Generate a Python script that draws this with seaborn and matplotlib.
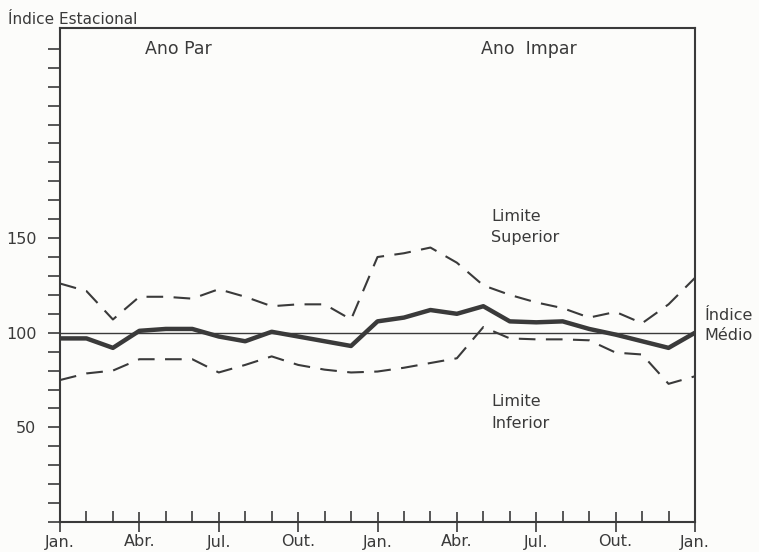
import seaborn as sns
import matplotlib.pyplot as plt
import numpy as np
import pandas as pd

# Monthly values (Jan of even year -> Jan two years later)
months = list(range(25))
indice_medio = [97, 97, 92, 101, 102, 102, 98, 95.5, 100.5, 98, 95.5, 93,
                106, 108, 112, 110, 114, 106, 105.5, 106, 102, 99, 95.5, 92, 100]
limite_superior = [126, 122, 107, 119, 119, 118, 123, 119, 114, 115, 115, 107,
                   140, 142, 145, 137, 125, 120, 116, 113, 108, 111, 105, 115, 129]
limite_inferior = [75, 78.5, 80, 86, 86, 86, 79, 83, 87.5, 83, 80.5, 79,
                   79.5, 81.5, 84, 86.5, 103, 97, 96.5, 96.5, 96, 89.5, 88.5, 73, 77]
tick_labels = ['Jan.', 'Abr.', 'Jul.', 'Out.', 'Jan.', 'Abr.', 'Jul.', 'Out.', 'Jan.']
media = 100

df = pd.DataFrame({
    'mes': months * 3,
    'valor': indice_medio + limite_superior + limite_inferior,
    'serie': ['medio'] * 25 + ['sup'] * 25 + ['inf'] * 25,
})

sns.set_style('ticks')
plt.rcParams['font.family'] = ['DejaVu Sans']
ink = '#3a3a3a'

fig = plt.figure(figsize=(7.59, 5.52), dpi=100, facecolor='#fcfcfa')
ax = fig.add_axes([60 / 759, 30 / 552, 635 / 759, 494 / 552])
ax.set_facecolor('#fcfcfa')

sns.lineplot(data=df[df.serie == 'sup'], x='mes', y='valor', ax=ax,
             color=ink, lw=1.5, linestyle=(0, (8, 5)))
sns.lineplot(data=df[df.serie == 'inf'], x='mes', y='valor', ax=ax,
             color=ink, lw=1.5, linestyle=(0, (8, 5)))
sns.lineplot(data=df[df.serie == 'medio'], x='mes', y='valor', ax=ax,
             color=ink, lw=3.2)
ax.axhline(media, color=ink, lw=1.0)

ax.set_xlim(0, 24)
ax.set_ylim(0, 261)
ax.set_xlabel('')
ax.set_ylabel('')

# x ticks: quarters labelled, monthly minor ticks
ax.set_xticks(np.arange(0, 25, 3))
ax.set_xticklabels(tick_labels, fontsize=11.5, color=ink)
ax.set_xticks(np.arange(0, 25, 1), minor=True)
ax.tick_params(axis='x', which='major', direction='inout', length=14, width=1.2, pad=2, color=ink)
ax.tick_params(axis='x', which='minor', direction='in', length=8, width=1.2, color=ink)

ax.set_yticks([50, 100, 150])
ax.set_yticklabels(['50', '100', '150'], fontsize=11.5, color=ink)
ax.set_yticks(np.arange(0, 260, 10), minor=True)
ax.tick_params(axis='y', which='both', direction='out', length=9, width=1.2, color=ink, pad=8)

for s in ax.spines.values():
    s.set_color(ink)
    s.set_linewidth(1.5)

fig.text(8 / 759, 1 - 24 / 552, 'Índice Estacional', fontsize=11, color=ink, va='baseline')
ax.text(3.2, 250, 'Ano Par', fontsize=12.5, color=ink, va='center')
ax.text(15.9, 250, 'Ano  Impar', fontsize=12.5, color=ink, va='center')
ax.text(16.3, 156, 'Limite\nSuperior', fontsize=11.5, color=ink, va='center', linespacing=1.5)
ax.text(16.3, 58, 'Limite\nInferior', fontsize=11.5, color=ink, va='center', linespacing=1.6)
ax.text(24.35, 104, 'Índice\nMédio', fontsize=11.5, color=ink, va='center',
        linespacing=1.4, clip_on=False)

fig.savefig('out.png', dpi=100, facecolor=fig.get_facecolor())
